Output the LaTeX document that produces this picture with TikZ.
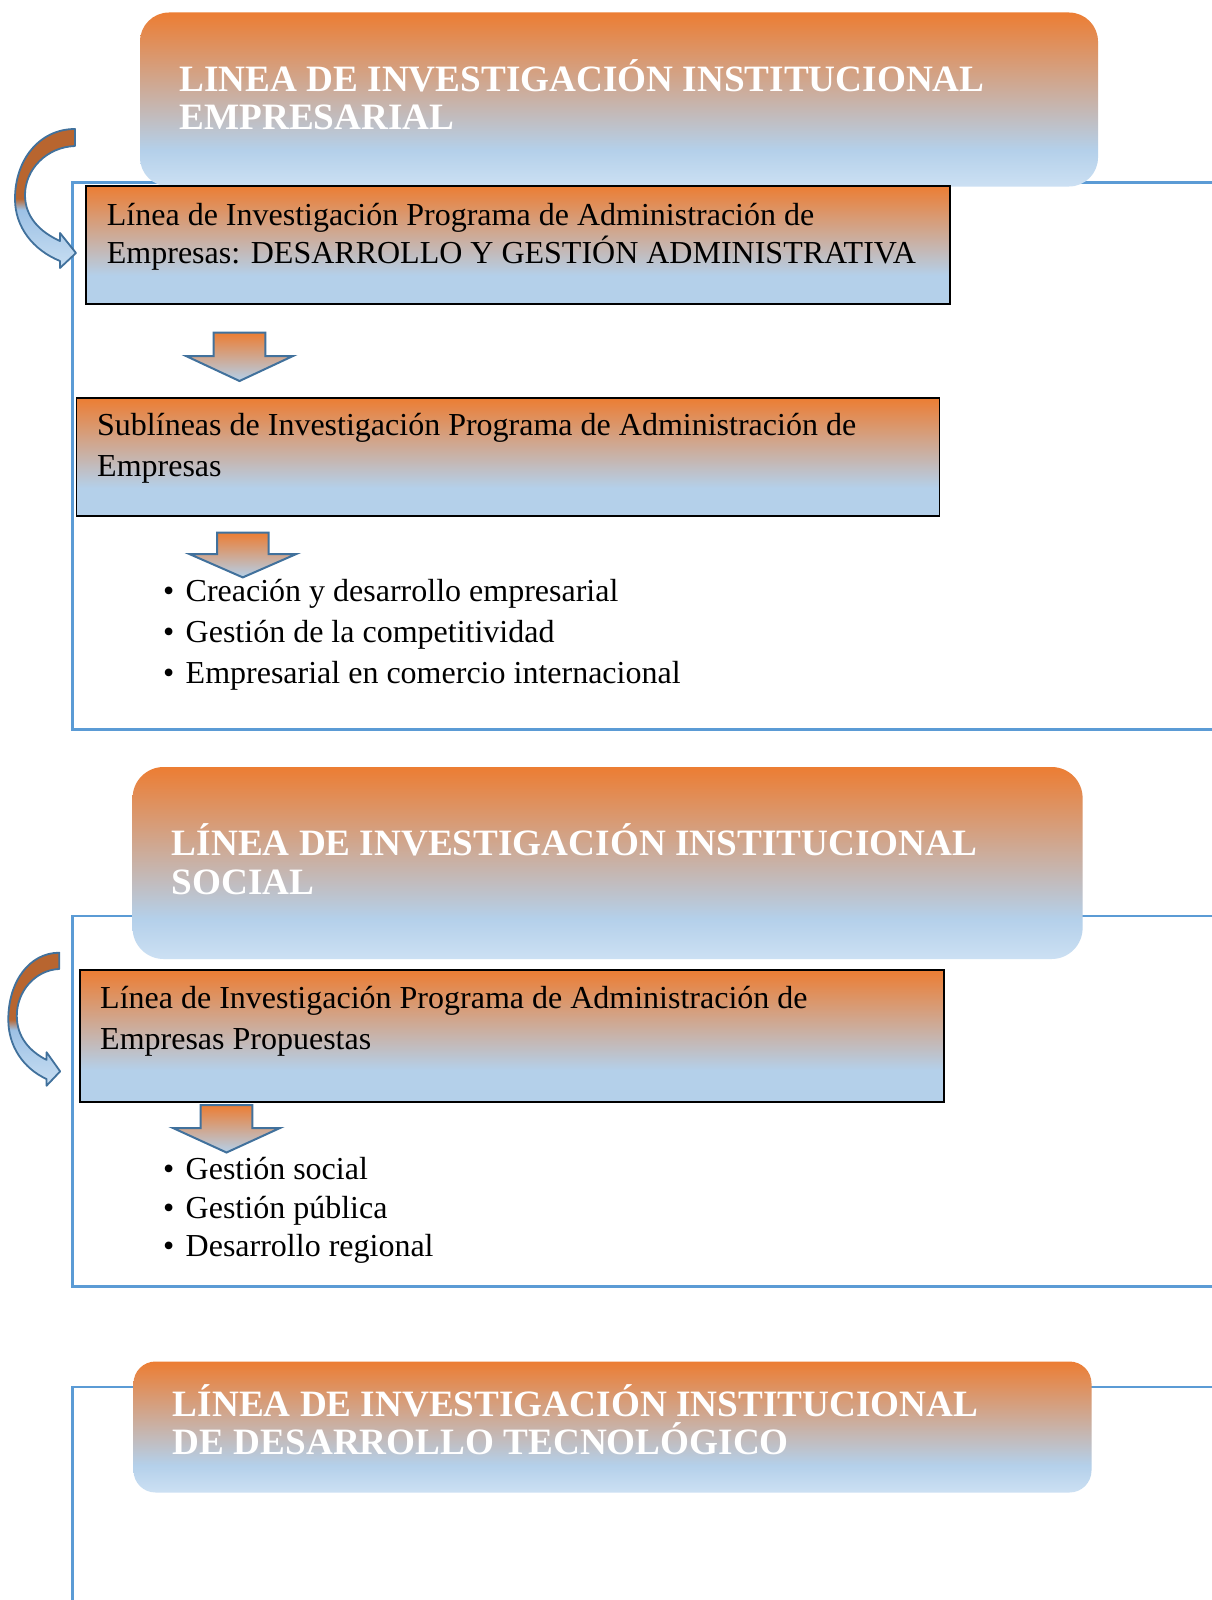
\documentclass[tikz,border=0pt]{standalone}
\usepackage{fontspec}
\setmainfont{Liberation Serif}
\definecolor{gOr}{HTML}{EC7D33}
\definecolor{gMid}{HTML}{B4D0EA}
\definecolor{gLow}{HTML}{CCE0F3}
\definecolor{frameblue}{HTML}{5B9BD5}
\definecolor{arrowblue}{HTML}{41719C}
\definecolor{cBrown}{HTML}{B8652F}
\definecolor{cBlueA}{HTML}{9DC1E5}
\definecolor{cBlueB}{HTML}{C8DEF2}
\pgfdeclareverticalshading{wordgrad}{100bp}{color(0bp)=(gLow); color(25bp)=(gLow); color(35.5bp)=(gMid); color(75bp)=(gOr); color(100bp)=(gOr)}
\pgfdeclareverticalshading{boxgrad}{100bp}{color(0bp)=(gMid); color(25bp)=(gMid); color(37bp)=(gMid); color(75bp)=(gOr); color(100bp)=(gOr)}
\pgfdeclareverticalshading{arrgrad}{100bp}{color(0bp)=(gMid); color(25bp)=(gMid); color(75bp)=(gOr); color(100bp)=(gOr)}
\pgfdeclareverticalshading{curvgrad}{100bp}{color(0bp)=(cBlueB); color(25bp)=(cBlueB); color(46bp)=(cBlueA); color(50bp)=(cBrown); color(75bp)=(cBrown); color(100bp)=(cBrown)}
\tikzset{
 frameline/.style={draw=frameblue, line width=2.2pt},
 titlebox/.style={shading=wordgrad, draw=none, anchor=north west, inner sep=0pt, outer sep=0pt},
 bodybox/.style={shading=boxgrad, draw=black, line width=1.8pt, anchor=north west, inner sep=0pt, outer sep=0pt},
 downarr/.style={shading=arrgrad, draw=arrowblue, line width=2pt, line join=miter},
 curvarr/.style={shading=curvgrad, draw=arrowblue, line width=1.8pt, line join=round},
 titletxt/.style={text=white, font=\fontsize{37.2}{40}\selectfont\bfseries, anchor=base west, inner sep=0pt},
 bodytxt/.style={text=black, font=\fontsize{32}{36}\selectfont, anchor=base west, inner sep=0pt},
}
\newcommand{\dnarrow}[4]{\path[downarr] ({#1-25.8},#2) -- ({#1+25.8},#2) -- ({#1+25.8},#3) -- ({#1+53.5},#3) -- (#1,#4) -- ({#1-53.5},#3) -- ({#1-25.8},#3) -- cycle;}
\begin{document}
\begin{tikzpicture}[x=1pt,y=-1pt]
\useasboundingbox[fill=white] (0,0) rectangle (1212,1600);
% frames
\draw[frameline] (1212,182.5) -- (72.4,182.5) -- (72.4,729.5) -- (1212,729.5);
\draw[frameline] (1212,916) -- (72.4,916) -- (72.4,1286.5) -- (1212,1286.5);
\draw[frameline] (1212,1386.6) -- (72.4,1386.6) -- (72.4,1600);
% title boxes
\node[titlebox, rounded corners=29pt, minimum width=958pt, minimum height=174pt] (t1) at (140,12.5) {};
\node[titlebox, rounded corners=31pt, minimum width=950pt, minimum height=192pt] (t2) at (132.6,767) {};
\node[titlebox, rounded corners=22pt, minimum width=958pt, minimum height=131pt] (t3) at (133.5,1361.5) {};
% body boxes
\node[bodybox, minimum width=864pt, minimum height=118.3pt] (b1) at (85.7,185.7) {};
\node[bodybox, minimum width=863pt, minimum height=118.3pt] (b2) at (76.5,397.9) {};
\node[bodybox, minimum width=864pt, minimum height=131.8pt] (b3) at (79.6,970) {};
% down arrows
\dnarrow{239.5}{332.5}{356}{381}
\dnarrow{242.8}{532.5}{554}{577.4}
\dnarrow{226.5}{1105}{1128}{1152.5}
% curved arrows
\begin{scope}[shift={(75,129)}]
\path[curvarr] (0,0) -- (0,17) .. controls (-28,18) and (-50,40) .. (-50,66) .. controls (-50,88) and (-35,103) .. (-15,112) -- (-15,104) -- (1,124) -- (-15,139) -- (-15,132) .. controls (-42,121) and (-60,98) .. (-60,70) .. controls (-60,30) and (-35,0) .. (0,0) -- cycle;
\end{scope}
\begin{scope}[shift={(59.3,952.7)}, xscale=0.85, yscale=0.957]
\path[curvarr] (0,0) -- (0,17) .. controls (-28,18) and (-50,40) .. (-50,66) .. controls (-50,88) and (-35,103) .. (-15,112) -- (-15,104) -- (1,124) -- (-15,139) -- (-15,132) .. controls (-42,121) and (-60,98) .. (-60,70) .. controls (-60,30) and (-35,0) .. (0,0) -- cycle;
\end{scope}
% title texts
\node[titletxt] (t1a) at (179.3,91.7) {LINEA DE INVESTIGACIÓN INSTITUCIONAL};
\node[titletxt] (t1b) at (179.3,130) {EMPRESARIAL};
\node[titletxt] (t2a) at (171.7,855) {LÍNEA DE INVESTIGACIÓN INSTITUCIONAL};
\node[titletxt] (t2b) at (171.7,894) {SOCIAL};
\node[titletxt] (t3a) at (172.7,1416.7) {LÍNEA DE INVESTIGACIÓN INSTITUCIONAL};
\node[titletxt] (t3b) at (172.7,1454) {DE DESARROLLO TECNOLÓGICO};
% body texts
\node[bodytxt] (b1a) at (106.7,225) {Línea de Investigación Programa de Administración de};
\node[bodytxt] (b1b) at (106.7,263.3) {Empresas: DESARROLLO Y GESTIÓN ADMINISTRATIVA};
\node[bodytxt] (b2a) at (97,435) {Sublíneas de Investigación Programa de Administración de};
\node[bodytxt] (b2b) at (97,476) {Empresas};
\node[bodytxt] (b3a) at (100,1008.5) {Línea de Investigación Programa de Administración de};
\node[bodytxt] (b3b) at (100,1049.3) {Empresas Propuestas};
% bullets
\foreach \y/\t/\n in {601.7/Creación y desarrollo empresarial/p1, 642.7/Gestión de la competitividad/p2, 683.3/Empresarial en comercio internacional/p3, 1179/Gestión social/q1, 1218/Gestión pública/q2, 1256.7/Desarrollo regional/q3}{
 \node[bodytxt] (\n dot) at (163,\y) {•};
 \node[bodytxt] (\n) at (185.5,\y) {\t};
}
\end{tikzpicture}
\end{document}
